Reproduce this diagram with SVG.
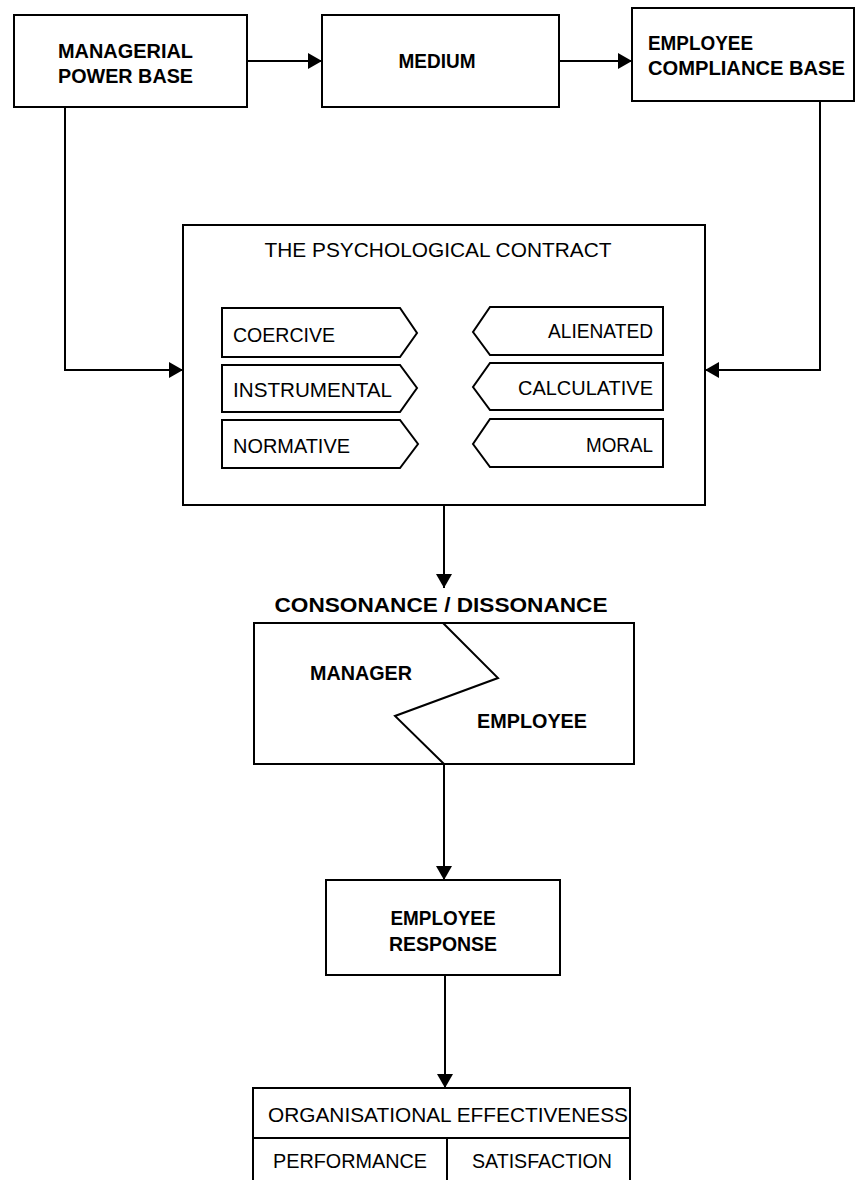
<svg xmlns="http://www.w3.org/2000/svg" width="857" height="1180" viewBox="0 0 857 1180">
<style>
  .box{fill:#fff;stroke:#000;stroke-width:2}
  .ln{fill:none;stroke:#000;stroke-width:2}
  .t{font-family:"Liberation Sans",Arial,sans-serif;font-size:20px;fill:#000}
  .b{font-weight:bold}
  .m{text-anchor:middle}
  .e{text-anchor:end}
</style>
<defs>
  <marker id="ah" viewBox="0 0 14 16" refX="14" refY="8" markerWidth="14" markerHeight="16" markerUnits="userSpaceOnUse" orient="auto">
    <path d="M0,0 L14,8 L0,16 Z" fill="#000"/>
  </marker>
</defs>
<rect width="857" height="1180" fill="#fff"/>
<g id="connectors">
  <line class="ln" x1="247" y1="61" x2="322" y2="61" marker-end="url(#ah)"/>
  <line class="ln" x1="559" y1="61" x2="632" y2="61" marker-end="url(#ah)"/>
  <polyline class="ln" points="65,107 65,370 183,370" marker-end="url(#ah)"/>
  <polyline class="ln" points="820,101 820,370 705,370" marker-end="url(#ah)"/>
  <line class="ln" x1="444" y1="505" x2="444" y2="588" marker-end="url(#ah)"/>
  <line class="ln" x1="444" y1="764" x2="444" y2="880" marker-end="url(#ah)"/>
  <line class="ln" x1="445" y1="975" x2="445" y2="1088" marker-end="url(#ah)"/>
</g>
<g id="managerial">
  <rect class="box" x="14" y="15" width="233" height="92"/>
  <text class="t b" x="58" y="58" textLength="135" lengthAdjust="spacingAndGlyphs">MANAGERIAL</text>
  <text class="t b" x="58" y="83" textLength="135" lengthAdjust="spacingAndGlyphs">POWER BASE</text>
</g>
<g id="medium">
  <rect class="box" x="322" y="15" width="237" height="92"/>
  <text class="t b m" x="437" y="68" textLength="77" lengthAdjust="spacingAndGlyphs">MEDIUM</text>
</g>
<g id="compliance">
  <rect class="box" x="632" y="8" width="222" height="93"/>
  <text class="t b" x="648" y="50" textLength="105" lengthAdjust="spacingAndGlyphs">EMPLOYEE</text>
  <text class="t b" x="648" y="75" textLength="197" lengthAdjust="spacingAndGlyphs">COMPLIANCE BASE</text>
</g>
<g id="contract">
  <rect class="box" x="183" y="225" width="522" height="280"/>
  <text class="t m" x="438" y="257" textLength="347" lengthAdjust="spacingAndGlyphs">THE PSYCHOLOGICAL CONTRACT</text>
</g>
<g id="coercive">
  <path class="box" d="M222,308 L400,308 L417,333 L400,357 L222,357 Z"/>
  <text class="t" x="233" y="342" textLength="102" lengthAdjust="spacingAndGlyphs">COERCIVE</text>
</g>
<g id="instrumental">
  <path class="box" d="M222,365 L400,365 L417,388 L400,412 L222,412 Z"/>
  <text class="t" x="233" y="397" textLength="159" lengthAdjust="spacingAndGlyphs">INSTRUMENTAL</text>
</g>
<g id="normative">
  <path class="box" d="M222,420 L400,420 L418,444 L400,468 L222,468 Z"/>
  <text class="t" x="233" y="453" textLength="117" lengthAdjust="spacingAndGlyphs">NORMATIVE</text>
</g>
<g id="alienated">
  <path class="box" d="M663,307 L490,307 L473,332 L490,355 L663,355 Z"/>
  <text class="t e" x="653" y="338" textLength="105" lengthAdjust="spacingAndGlyphs">ALIENATED</text>
</g>
<g id="calculative">
  <path class="box" d="M663,363 L490,363 L473,387 L490,410 L663,410 Z"/>
  <text class="t e" x="653" y="395" textLength="135" lengthAdjust="spacingAndGlyphs">CALCULATIVE</text>
</g>
<g id="moral">
  <path class="box" d="M663,419 L490,419 L473,444 L490,467 L663,467 Z"/>
  <text class="t e" x="653" y="452" textLength="67" lengthAdjust="spacingAndGlyphs">MORAL</text>
</g>
<g id="consonance">
  <text class="t b m" x="441" y="612" textLength="333" lengthAdjust="spacingAndGlyphs">CONSONANCE / DISSONANCE</text>
  <rect class="box" x="254" y="623" width="380" height="141"/>
  <polyline class="ln" points="443,623 498,678 395,716 444,764"/>
  <text class="t b" x="310" y="680" textLength="102" lengthAdjust="spacingAndGlyphs">MANAGER</text>
  <text class="t b" x="477" y="728" textLength="110" lengthAdjust="spacingAndGlyphs">EMPLOYEE</text>
</g>
<g id="response">
  <rect class="box" x="326" y="880" width="234" height="95"/>
  <text class="t b m" x="443" y="925" textLength="105" lengthAdjust="spacingAndGlyphs">EMPLOYEE</text>
  <text class="t b m" x="443" y="951" textLength="108" lengthAdjust="spacingAndGlyphs">RESPONSE</text>
</g>
<g id="effectiveness">
  <rect class="box" x="253" y="1088" width="377" height="100"/>
  <line class="ln" x1="253" y1="1138" x2="630" y2="1138"/>
  <line class="ln" x1="447" y1="1138" x2="447" y2="1188"/>
  <text class="t" x="268" y="1122" textLength="360" lengthAdjust="spacingAndGlyphs">ORGANISATIONAL EFFECTIVENESS</text>
  <text class="t" x="273" y="1168" textLength="154" lengthAdjust="spacingAndGlyphs">PERFORMANCE</text>
  <text class="t" x="472" y="1168" textLength="140" lengthAdjust="spacingAndGlyphs">SATISFACTION</text>
</g>
</svg>
